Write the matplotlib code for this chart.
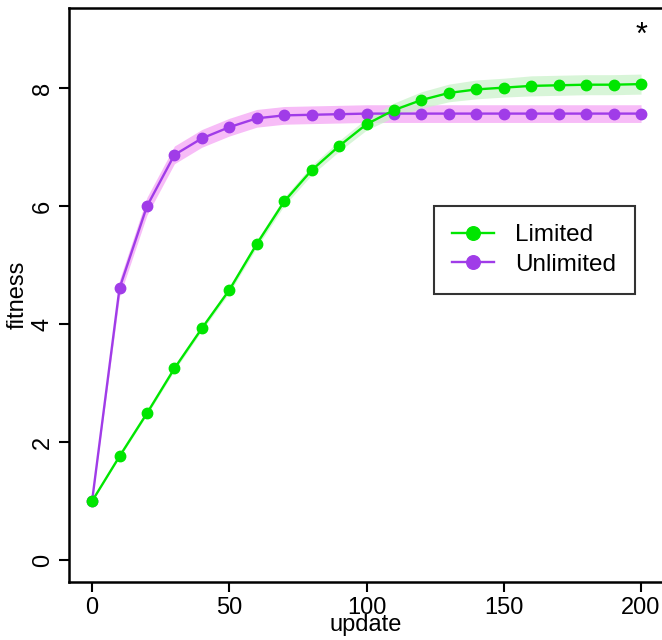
import numpy as np
import matplotlib.pyplot as plt

plt.rcParams['font.family'] = ['Liberation Sans', 'DejaVu Sans']

updates = list(range(0, 201, 10))
limited = [1.00, 1.76, 2.49, 3.25, 3.93, 4.58, 5.36, 6.08, 6.61, 7.02, 7.39,
           7.63, 7.80, 7.92, 7.98, 8.01, 8.04, 8.05, 8.06, 8.06, 8.07]
limited_err = [0.00, 0.02, 0.03, 0.04, 0.04, 0.05, 0.06, 0.07, 0.08, 0.09, 0.10,
               0.12, 0.14, 0.15, 0.16, 0.16, 0.17, 0.17, 0.17, 0.17, 0.17]
unlimited = [1.00, 4.61, 6.00, 6.87, 7.15, 7.34, 7.49, 7.54, 7.55, 7.56, 7.57,
             7.57, 7.57, 7.57, 7.57, 7.57, 7.57, 7.57, 7.57, 7.57, 7.57]
unlimited_err = [0.00, 0.14, 0.15, 0.15, 0.15, 0.15, 0.15, 0.15, 0.15, 0.15, 0.15,
                 0.15, 0.15, 0.15, 0.15, 0.15, 0.15, 0.15, 0.15, 0.15, 0.15]

x = np.array(updates)
lim = np.array(limited)
unl = np.array(unlimited)
lim_e = np.array(limited_err)
unl_e = np.array(unlimited_err)

fig = plt.figure(figsize=(6.62, 6.40), dpi=100)
ax = fig.add_axes([69 / 662, 58 / 640, 594 / 662, 574 / 640])

# unlimited first so the limited series sits on top
ax.fill_between(x, unl - unl_e, unl + unl_e, color='#f7bcf7', lw=0)
ax.fill_between(x, lim - lim_e, lim + lim_e, color='#c8f2c8', lw=0, alpha=0.7)
l_unl, = ax.plot(x, unl, '-o', color='#a03ce8', lw=1.7, ms=7.5, label='Unlimited')
l_lim, = ax.plot(x, lim, '-o', color='#00e600', lw=1.7, ms=7.5, label='Limited')

ax.text(200, 8.88, '*', ha='center', va='center', fontsize=22)

ax.set_xlim(-8.4, 208)
ax.set_ylim(-0.37, 9.36)
ax.set_xticks([0, 50, 100, 150, 200])
ax.set_yticks([0, 2, 4, 6, 8])
ax.tick_params(labelsize=17, width=1.5, length=7.5, direction='out')
for lbl in ax.get_yticklabels():
    lbl.set_rotation(90)
    lbl.set_va('center')
for s in ax.spines.values():
    s.set_linewidth(1.8)

ax.set_xlabel('update', fontsize=17, labelpad=-4)
ax.set_ylabel('fitness', fontsize=17, labelpad=2)

leg = ax.legend([l_lim, l_unl], ['Limited', 'Unlimited'],
                loc='upper left', bbox_to_anchor=((434 - 69) / 594, (582 - 206) / 574),
                fontsize=17.5, frameon=True, fancybox=False, handlelength=1.7,
                borderpad=0.75, labelspacing=0.3, handletextpad=0.9,
                borderaxespad=0, markerscale=1.3)
leg.get_frame().set_edgecolor('black')
leg.get_frame().set_linewidth(1.5)

fig.savefig('out.png', dpi=100)
